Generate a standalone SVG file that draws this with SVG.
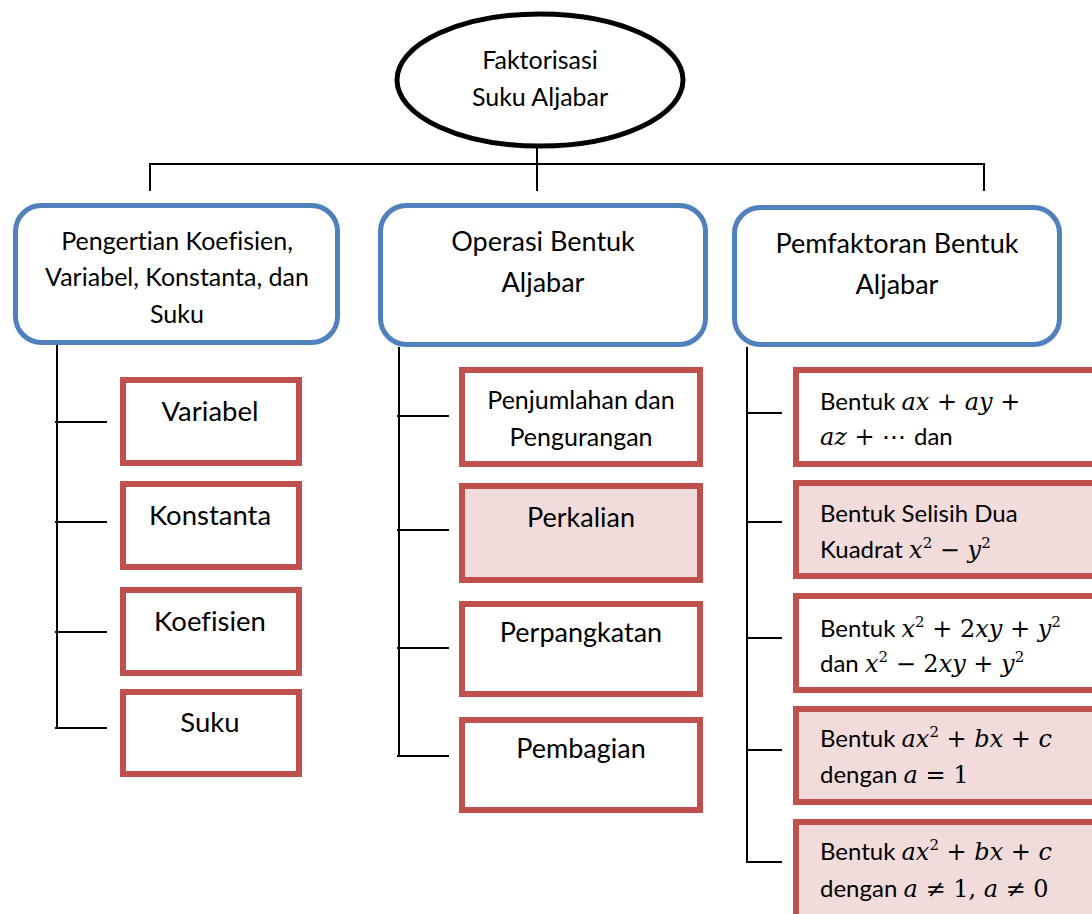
<svg xmlns="http://www.w3.org/2000/svg" width="1092" height="914" viewBox="0 0 1092 914">
<style>
.t{font-family:Lato,"Open Sans","Liberation Sans",sans-serif;fill:#000;font-variant-ligatures:none;}
.c{text-anchor:middle;}
.hd{fill:#fff;stroke:#4F81BD;stroke-width:5;}
.bx{fill:#fff;stroke:#C0504D;stroke-width:6;}
.pk{fill:#F2DCDB;stroke:#C0504D;stroke-width:6;}
.ln{stroke:#000;stroke-width:2;fill:none;}
.m{font-family:"DejaVu Serif","Liberation Serif",serif;font-style:italic;}
.u{font-family:"DejaVu Serif","Liberation Serif",serif;}
.s{font-family:"DejaVu Serif","Liberation Serif",serif;font-size:15px;}
</style>
<rect width="1092" height="914" fill="#fff"/>
<g id="connectors">
<path class="ln" d="M537 146V191M150 191V164H984V191"/>
<path class="ln" d="M57 345V729M55 422H107M55 522H107M55 632H107M55 728H107"/>
<path class="ln" d="M399 347V757M397 416H449M397 530H449M397 648H449M397 756H449"/>
<path class="ln" d="M747 347V863M746 413H782M746 522H782M746 638H782M746 750H782M746 862H782"/>
</g>
<g id="root">
<ellipse cx="540" cy="80" rx="143" ry="66" fill="#fff" stroke="#000" stroke-width="5"/>
<text class="t c" x="540" y="69" font-size="25">Faktorisasi</text>
<text class="t c" x="540" y="106" font-size="25">Suku Aljabar</text>
</g>
<g id="h1">
<rect class="hd" x="15.5" y="205.5" width="322" height="137" rx="26"/>
<text class="t c" x="177" y="250" font-size="25">Pengertian Koefisien,</text>
<text class="t c" x="177" y="286" font-size="25">Variabel, Konstanta, dan</text>
<text class="t c" x="177" y="323" font-size="25">Suku</text>
</g>
<g id="h2">
<rect class="hd" x="380.5" y="205.5" width="325" height="139" rx="26"/>
<text class="t c" x="543" y="251" font-size="27">Operasi Bentuk</text>
<text class="t c" x="543" y="292" font-size="27">Aljabar</text>
</g>
<g id="h3">
<rect class="hd" x="734.5" y="207.5" width="325" height="137" rx="26"/>
<text class="t c" x="897" y="253" font-size="27">Pemfaktoran Bentuk</text>
<text class="t c" x="897" y="294" font-size="27">Aljabar</text>
</g>
<g id="l1"><rect class="bx" x="123" y="380" width="176" height="83"/><text class="t c" x="210" y="421" font-size="27.5">Variabel</text></g>
<g id="l2"><rect class="bx" x="123" y="484" width="176" height="83"/><text class="t c" x="210" y="525" font-size="27.5">Konstanta</text></g>
<g id="l3"><rect class="bx" x="123" y="590" width="176" height="83"/><text class="t c" x="210" y="631" font-size="27.5">Koefisien</text></g>
<g id="l4"><rect class="bx" x="123" y="692" width="176" height="82"/><text class="t c" x="210" y="732" font-size="27.5">Suku</text></g>
<g id="m1"><rect class="bx" x="462" y="370" width="238" height="94"/><text class="t c" x="581" y="409" font-size="25">Penjumlahan dan</text><text class="t c" x="581" y="446" font-size="25">Pengurangan</text></g>
<g id="m2"><rect class="pk" x="462" y="486" width="238" height="94"/><text class="t c" x="581" y="527" font-size="27">Perkalian</text></g>
<g id="m3"><rect class="bx" x="462" y="604" width="238" height="90"/><text class="t c" x="581" y="642" font-size="27">Perpangkatan</text></g>
<g id="m4"><rect class="bx" x="462" y="720" width="238" height="90"/><text class="t c" x="581" y="758" font-size="27">Pembagian</text></g>
<g id="r1"><rect class="bx" x="796" y="370" width="320" height="94"/>
<text class="t" x="820" y="410" font-size="24">Bentuk <tspan class="m">ax</tspan><tspan class="u"> + </tspan><tspan class="m">ay</tspan><tspan class="u"> +</tspan></text>
<text class="t" x="820" y="445" font-size="24"><tspan class="m">az</tspan><tspan class="u"> + ⋯ </tspan>dan</text></g>
<g id="r2"><rect class="pk" x="796" y="483" width="320" height="93"/>
<text class="t" x="820" y="522" font-size="24">Bentuk Selisih Dua</text>
<text class="t" x="820" y="558" font-size="24">Kuadrat <tspan class="m">x</tspan><tspan class="s" dy="-10">2</tspan><tspan class="u" dy="10"> − </tspan><tspan class="m">y</tspan><tspan class="s" dy="-10">2</tspan></text></g>
<g id="r3"><rect class="bx" x="796" y="596" width="320" height="94"/>
<text class="t" x="820" y="637" font-size="24">Bentuk <tspan class="m">x</tspan><tspan class="s" dy="-10">2</tspan><tspan class="u" dy="10"> + 2</tspan><tspan class="m">xy</tspan><tspan class="u"> + </tspan><tspan class="m">y</tspan><tspan class="s" dy="-10">2</tspan></text>
<text class="t" x="820" y="672" font-size="24">dan <tspan class="m">x</tspan><tspan class="s" dy="-10">2</tspan><tspan class="u" dy="10"> − 2</tspan><tspan class="m">xy</tspan><tspan class="u"> + </tspan><tspan class="m">y</tspan><tspan class="s" dy="-10">2</tspan></text></g>
<g id="r4"><rect class="pk" x="796" y="709" width="320" height="93"/>
<text class="t" x="820" y="747" font-size="24">Bentuk <tspan class="m">ax</tspan><tspan class="s" dy="-10">2</tspan><tspan class="u" dy="10"> + </tspan><tspan class="m">bx</tspan><tspan class="u"> + </tspan><tspan class="m">c</tspan></text>
<text class="t" x="820" y="783" font-size="24">dengan <tspan class="m">a</tspan><tspan class="u"> = 1</tspan></text></g>
<g id="r5"><rect class="pk" x="796" y="822" width="320" height="120"/>
<text class="t" x="820" y="860" font-size="24">Bentuk <tspan class="m">ax</tspan><tspan class="s" dy="-10">2</tspan><tspan class="u" dy="10"> + </tspan><tspan class="m">bx</tspan><tspan class="u"> + </tspan><tspan class="m">c</tspan></text>
<text class="t" x="820" y="897" font-size="24">dengan <tspan class="m">a</tspan><tspan class="u"> ≠ 1, </tspan><tspan class="m">a</tspan><tspan class="u"> ≠ 0</tspan></text></g>
</svg>
